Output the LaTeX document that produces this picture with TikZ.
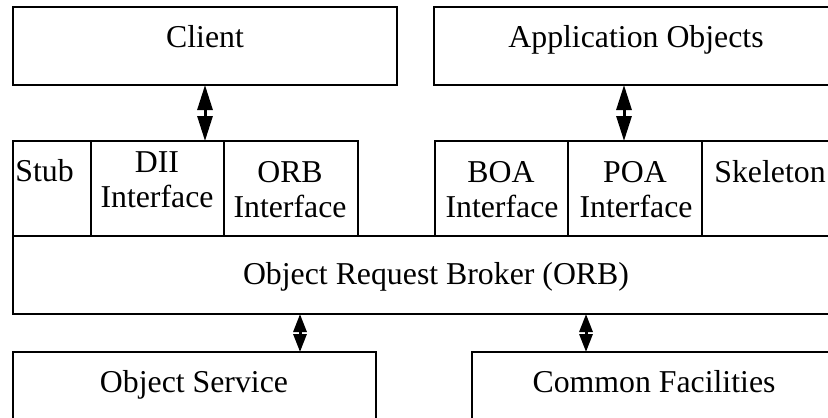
\documentclass[tikz,border=0pt]{standalone}
\usepackage{fontspec}
\setmainfont{Liberation Serif}
\usetikzlibrary{arrows.meta,fit}
\begin{document}
\begin{tikzpicture}[x=0.5pt,y=-0.5pt,
  frame/.style={line width=1pt, line join=miter},
  area/.style={inner sep=0pt, outer sep=0pt},
  lbl/.style={font=\fontsize{15.9}{17.5}\selectfont, inner sep=0pt, anchor=base},
  biarrow/.style={line width=1.5pt, {Triangle[length=12.5pt,width=7.5pt]}-{Triangle[length=12.5pt,width=7.5pt]}},
  sbiarrow/.style={line width=1.5pt, {Triangle[length=9pt,width=6.5pt]}-{Triangle[length=9pt,width=6.5pt]}}]
\useasboundingbox (0,0) rectangle (828,417);

% boxes (areas)
\node[area, fit={(13,7) (397,85)}] (client) {};
\node[area, fit={(434,7) (830,85)}] (appobj) {};
\node[area, fit={(13,141) (91,236)}] (stub) {};
\node[area, fit={(91,141) (224,236)}] (dii) {};
\node[area, fit={(224,141) (358,236)}] (orbif) {};
\node[area, fit={(435,141) (568,236)}] (boa) {};
\node[area, fit={(568,141) (702,236)}] (poa) {};
\node[area, fit={(702,141) (830,236)}] (skel) {};
\node[area, fit={(13,236) (830,314)}] (orb) {};
\node[area, fit={(13,352) (376,420)}] (objsvc) {};
\node[area, fit={(472,352) (830,420)}] (common) {};

% frames
\draw[frame] (client.north west) rectangle (client.south east);
\draw[frame] (appobj.north east) -- (appobj.north west) -- (appobj.south west) -- (appobj.south east);
\draw[frame] (stub.south west) -- (stub.north west) -- (orbif.north east) -- (orbif.south east);
\draw[frame] (dii.north west) -- (dii.south west);
\draw[frame] (dii.north east) -- (dii.south east);
\draw[frame] (boa.south west) -- (boa.north west) -- (skel.north east);
\draw[frame] (poa.north west) -- (poa.south west);
\draw[frame] (poa.north east) -- (poa.south east);
\draw[frame] (orb.north east) -- (orb.north west) -- (orb.south west) -- (orb.south east);
\draw[frame] (objsvc.south west) -- (objsvc.north west) -- (objsvc.north east) -- (objsvc.south east);
\draw[frame] (common.south west) -- (common.north west) -- (common.north east);

% labels
\node[lbl] (tclient) at (205,48) {Client};
\node[lbl] (tappobj) at (636,48) {Application Objects};
\node[lbl, anchor=base west] (tstub) at (15,181) {Stub};
\node[lbl] (tdii1) at (157,172) {DII};
\node[lbl] (tdii2) at (157,207) {Interface};
\node[lbl] (torb1) at (290,182) {ORB};
\node[lbl] (torb2) at (290,217) {Interface};
\node[lbl] (tboa1) at (501,182) {BOA};
\node[lbl] (tboa2) at (502,217) {Interface};
\node[lbl] (tpoa1) at (635,182) {POA};
\node[lbl] (tpoa2) at (636,217) {Interface};
\node[lbl, anchor=base west] (tskel) at (714,182) {Skeleton};
\node[lbl] (torb) at (436,284) {Object Request Broker (ORB)};
\node[lbl] (tobjsvc) at (194,392) {Object Service};
\node[lbl] (tcommon) at (654,392) {Common Facilities};

% connectors
\coordinate (a1) at (205,0);
\coordinate (a2) at (624,0);
\coordinate (a3) at (300,0);
\coordinate (a4) at (586,0);
\draw[biarrow] (client.south -| a1) -- (dii.north -| a1);
\draw[biarrow] (appobj.south -| a2) -- (poa.north -| a2);
\draw[sbiarrow] (orb.south -| a3) -- (objsvc.north -| a3);
\draw[sbiarrow] (orb.south -| a4) -- (common.north -| a4);
\end{tikzpicture}
\end{document}
